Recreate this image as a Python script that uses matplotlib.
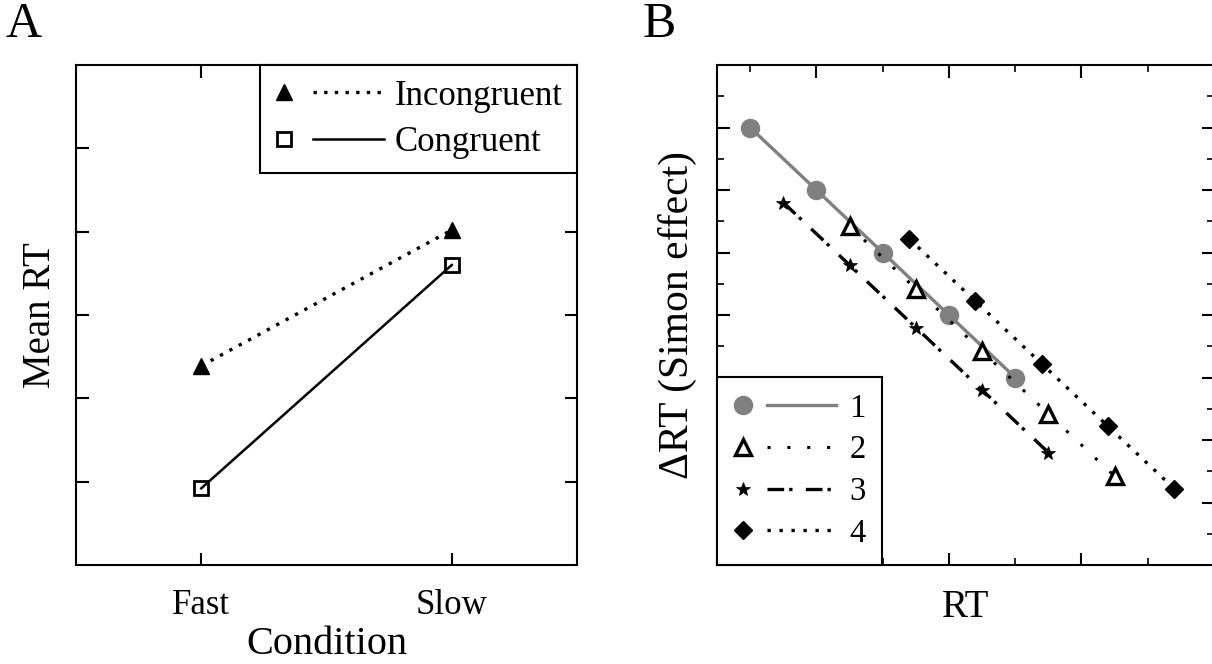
import numpy as np
import matplotlib
matplotlib.use("Agg")
import matplotlib.pyplot as plt
from matplotlib.lines import Line2D

plt.rcParams['font.family'] = ['Liberation Serif', 'DejaVu Serif']

# panel A data
conditions = ['Fast', 'Slow']
incongruent = [2.39, 4.02]
congruent = [0.92, 3.60]

# panel B data
s1_x = [1, 2, 3, 4, 5]
s1_y = [7.0, 6.0, 5.0, 4.0, 3.0]
s2_x = [2.5, 3.5, 4.5, 5.5, 6.5]
s2_y = [5.42, 4.42, 3.42, 2.42, 1.42]
s3_x = [1.5, 2.5, 3.5, 4.5, 5.5]
s3_y = [5.8, 4.8, 3.8, 2.8, 1.8]
s4_x = [3.4, 4.4, 5.4, 6.4, 7.4]
s4_y = [5.22, 4.22, 3.22, 2.22, 1.22]
b_labels = ['1', '2', '3', '4']


# legend handle: marker on the left, line to the right
class MarkerThenLine:
    def __init__(self, mk_frac=0.09, line_frac=0.34):
        self.mk_frac = mk_frac
        self.line_frac = line_frac

    def legend_artist(self, legend, orig_handle, fontsize, handlebox):
        x0, y0 = handlebox.xdescent, handlebox.ydescent
        w, h = handlebox.width, handlebox.height
        yc = y0 + h / 2
        ln = Line2D([x0 + self.line_frac * w, x0 + w], [yc, yc],
                    color=orig_handle.get_color(), lw=orig_handle.get_linewidth(),
                    linestyle=orig_handle.get_linestyle())
        dash = orig_handle._unscaled_dash_pattern[1]
        if dash:
            ln.set_dashes(dash)
        mk = Line2D([x0 + self.mk_frac * w], [yc], linestyle='none',
                    marker=orig_handle.get_marker(), markersize=orig_handle.get_markersize(),
                    markerfacecolor=orig_handle.get_markerfacecolor(),
                    markeredgecolor=orig_handle.get_markeredgecolor(),
                    markeredgewidth=orig_handle.get_markeredgewidth())
        handlebox.add_artist(ln)
        handlebox.add_artist(mk)
        return ln


fig = plt.figure(figsize=(12.12, 6.64), dpi=100)

# ---------------- panel A ----------------
axA = fig.add_axes([76 / 1212, 99 / 664, 501 / 1212, 500 / 664])
xpos = np.arange(len(conditions))
l_inc, = axA.plot(xpos, incongruent, color='black', lw=2.4, marker='^', markersize=11,
                  markerfacecolor='black', markeredgecolor='black', dashes=(1, 2.2))
l_con, = axA.plot(xpos, congruent, color='black', lw=1.8, marker='s', markersize=10,
                  markerfacecolor='none', markeredgecolor='black', markeredgewidth=2)
axA.set_xlim(-0.5, 1.5)
axA.set_ylim(0, 6)
axA.set_xticks(xpos)
axA.set_xticklabels(conditions, fontsize=25)
axA.set_yticks([1, 2, 3, 4, 5])
axA.set_yticklabels([])
axA.tick_params(direction='in', top=True, right=True, length=9, width=1.5, pad=17)
for s in axA.spines.values():
    s.set_linewidth(1.5)
axA.set_xlabel('Condition', fontsize=29, labelpad=3)
axA.set_ylabel('Mean RT', fontsize=28, labelpad=-5)
axA.legend([l_inc, l_con], ['Incongruent', 'Congruent'], loc='upper right',
           handler_map={Line2D: MarkerThenLine(0.09, 0.35)}, fontsize=25, frameon=True,
           fancybox=False, edgecolor='black', framealpha=1, borderaxespad=0,
           handlelength=3.15, handletextpad=0.3, borderpad=0.42, labelspacing=0.38)
axA.get_legend().get_frame().set_linewidth(1.5)
fig.text(24 / 1212, 1 - 25 / 664, 'A', fontsize=36, ha='center', va='center')

# ---------------- panel B ----------------
axB = fig.add_axes([717 / 1212, 99 / 664, 497 / 1212, 500 / 664])
h1, = axB.plot(s1_x, s1_y, color='#808080', lw=2.4, marker='o', markersize=13,
               markerfacecolor='#808080', markeredgecolor='#808080')
h2, = axB.plot(s2_x, s2_y, color='black', lw=2.2, marker='^', markersize=12,
               markerfacecolor='white', markeredgecolor='black', markeredgewidth=2.4,
               dashes=(1, 5.5))
h3, = axB.plot(s3_x, s3_y, color='black', lw=2.4, marker='*', markersize=10,
               markerfacecolor='black', markeredgecolor='black', markeredgewidth=0.5,
               dashes=(5, 1.5, 1, 4))
h4, = axB.plot(s4_x, s4_y, color='black', lw=2.4, marker='D', markersize=9.5,
               markerfacecolor='black', markeredgecolor='black', dashes=(1, 2.6))
axB.set_xlim(0.5, 8)
axB.set_ylim(0, 8)
axB.set_xticks([2, 4, 6])
axB.set_xticks([1, 3, 5, 7], minor=True)
axB.set_yticks([1, 2, 3, 4, 5, 6, 7])
axB.set_yticks(np.arange(0.5, 8, 1), minor=True)
axB.set_xticklabels([])
axB.set_yticklabels([])
axB.tick_params(which='major', direction='in', top=True, right=True, length=9, width=1.5)
axB.tick_params(which='minor', direction='in', top=True, right=True, length=5, width=1.2)
for s in axB.spines.values():
    s.set_linewidth(1.5)
axB.set_xlabel('RT', fontsize=28, labelpad=14)
axB.set_ylabel('ΔRT (Simon effect)', fontsize=30, labelpad=11)
axB.legend([h1, h2, h3, h4], b_labels, loc='lower left',
           handler_map={Line2D: MarkerThenLine(0.09, 0.33)}, fontsize=23.5, frameon=True,
           fancybox=False, edgecolor='black', framealpha=1, borderaxespad=0,
           handlelength=3.15, handletextpad=0.4, borderpad=0.5, labelspacing=0.34)
axB.get_legend().get_frame().set_linewidth(1.5)
fig.text(659 / 1212, 1 - 25 / 664, 'B', fontsize=36, ha='center', va='center')

fig.savefig('out.png', dpi=100)
